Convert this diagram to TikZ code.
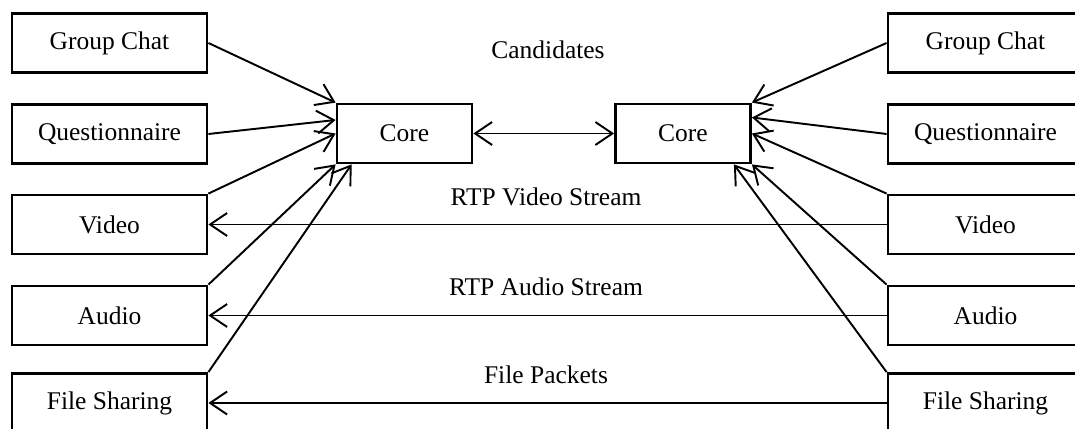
\documentclass[tikz,border=0pt]{standalone}
\usepackage{fontspec}
\setmainfont{Liberation Serif}
\usetikzlibrary{arrows.meta}

\begin{document}
\begin{tikzpicture}[
    >={Straight Barb[length=0.34cm, width=0.46cm]},
    box/.style={rectangle, draw, line width=1.6pt, minimum width=3.9cm, minimum height=1.18cm, font=\fontsize{14.5}{17}\selectfont},
    core/.style={box, minimum width=2.7cm},
    lbl/.style={font=\fontsize{14.5}{17}\selectfont},
    link/.style={line width=1.1pt}
]
    \useasboundingbox (0,0) rectangle (21.5,8.58);
    \clip (0,0) rectangle (21.5,8.58);

    % modules of the first client
    \node[box] (lchat) at (2.19, 7.72) {Group Chat};
    \node[box] (lquest) at (2.19, 5.90) {Questionnaire};
    \node[box] (lvideo) at (2.19, 4.09) {Video};
    \node[box] (laudio) at (2.19, 2.27) {Audio};
    \node[box] (lfile) at (2.19, 0.52) {File Sharing};

    % modules of the second client
    \node[box] (rchat) at (19.71, 7.72) {Group Chat};
    \node[box] (rquest) at (19.71, 5.90) {Questionnaire};
    \node[box] (rvideo) at (19.71, 4.09) {Video};
    \node[box] (raudio) at (19.71, 2.27) {Audio};
    \node[box] (rfile) at (19.71, 0.52) {File Sharing};

    \node[core] (lcore) at (8.09, 5.91) {Core};
    \node[core] (rcore) at (13.66, 5.91) {Core};

    \node[lbl] (cand) at (10.96, 7.58) {Candidates};
    \node[lbl] (vstream) at (10.92, 4.64) {RTP Video Stream};
    \node[lbl] (astream) at (10.92, 2.84) {RTP Audio Stream};
    \node[lbl] (packets) at (10.92, 1.08) {File Packets};

    % modules into the left core
    \draw[->, link] (lchat.east) -- (lcore.north west);
    \draw[->, link] (lquest.east) -- ([yshift=0.27cm]lcore.west);
    \draw[->, link] (lvideo.north east) -- (lcore.west);
    \draw[->, link] (laudio.north east) -- (lcore.south west);
    \draw[->, link] (lfile.north east) -- ([xshift=0.32cm]lcore.south west);

    % modules into the right core
    \draw[->, link] (rchat.west) -- (rcore.north east);
    \draw[->, link] (rquest.west) -- ([yshift=0.32cm]rcore.east);
    \draw[->, link] (rvideo.north west) -- (rcore.east);
    \draw[->, link] (raudio.north west) -- (rcore.south east);
    \draw[->, link] (rfile.north west) -- ([xshift=-0.36cm]rcore.south east);

    % core to core, then the media streams
    \draw[<->, link] (lcore) -- (rcore);
    \draw[->, link] (rvideo) -- (lvideo);
    \draw[->, link] (raudio) -- (laudio);
    \draw[->, link] (rfile) -- (lfile);

\end{tikzpicture}
\end{document}
